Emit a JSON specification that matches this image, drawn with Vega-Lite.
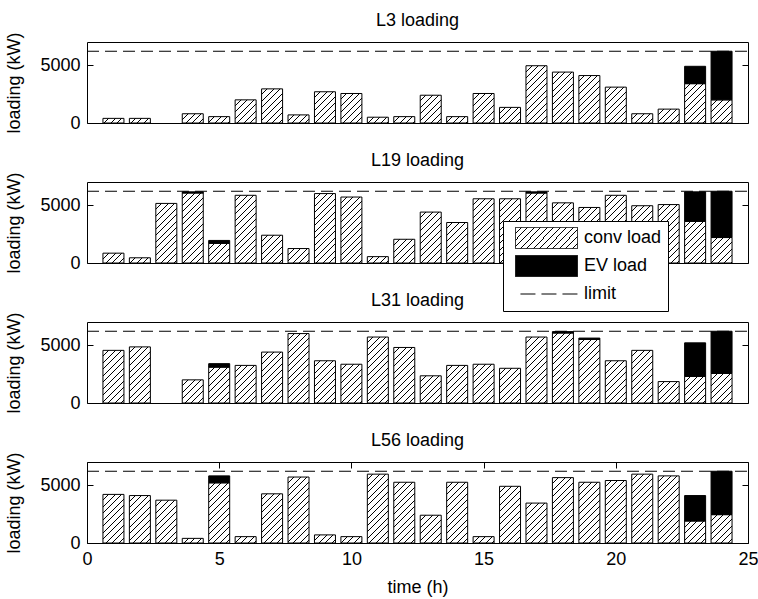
{
  "$schema": "https://vega.github.io/schema/vega-lite/v6.json",
  "background": "white",
  "padding": {"left": 5, "top": 11, "right": -1, "bottom": 0},
  "params": [
    {"name": "hatchStops", "value": [
      {"offset": 0, "color": "white"}, {"offset": 0.056411, "color": "white"}, {"offset": 0.056411, "color": "black"}, {"offset": 0.066667, "color": "black"},
      {"offset": 0.066667, "color": "white"}, {"offset": 0.123077, "color": "white"}, {"offset": 0.123077, "color": "black"}, {"offset": 0.133333, "color": "black"},
      {"offset": 0.133333, "color": "white"}, {"offset": 0.189744, "color": "white"}, {"offset": 0.189744, "color": "black"}, {"offset": 0.2, "color": "black"},
      {"offset": 0.2, "color": "white"}, {"offset": 0.256411, "color": "white"}, {"offset": 0.256411, "color": "black"}, {"offset": 0.266667, "color": "black"},
      {"offset": 0.266667, "color": "white"}, {"offset": 0.323077, "color": "white"}, {"offset": 0.323077, "color": "black"}, {"offset": 0.333333, "color": "black"},
      {"offset": 0.333333, "color": "white"}, {"offset": 0.389744, "color": "white"}, {"offset": 0.389744, "color": "black"}, {"offset": 0.4, "color": "black"},
      {"offset": 0.4, "color": "white"}, {"offset": 0.456411, "color": "white"}, {"offset": 0.456411, "color": "black"}, {"offset": 0.466667, "color": "black"},
      {"offset": 0.466667, "color": "white"}, {"offset": 0.523077, "color": "white"}, {"offset": 0.523077, "color": "black"}, {"offset": 0.533333, "color": "black"},
      {"offset": 0.533333, "color": "white"}, {"offset": 0.589744, "color": "white"}, {"offset": 0.589744, "color": "black"}, {"offset": 0.6, "color": "black"},
      {"offset": 0.6, "color": "white"}, {"offset": 0.656411, "color": "white"}, {"offset": 0.656411, "color": "black"}, {"offset": 0.666667, "color": "black"},
      {"offset": 0.666667, "color": "white"}, {"offset": 0.723077, "color": "white"}, {"offset": 0.723077, "color": "black"}, {"offset": 0.733333, "color": "black"},
      {"offset": 0.733333, "color": "white"}, {"offset": 0.789744, "color": "white"}, {"offset": 0.789744, "color": "black"}, {"offset": 0.8, "color": "black"},
      {"offset": 0.8, "color": "white"}, {"offset": 0.856411, "color": "white"}, {"offset": 0.856411, "color": "black"}, {"offset": 0.866667, "color": "black"},
      {"offset": 0.866667, "color": "white"}, {"offset": 0.923077, "color": "white"}, {"offset": 0.923077, "color": "black"}, {"offset": 0.933333, "color": "black"},
      {"offset": 0.933333, "color": "white"}, {"offset": 0.989744, "color": "white"}, {"offset": 0.989744, "color": "black"}, {"offset": 1, "color": "black"},
      {"offset": 1, "color": "white"}
    ]}
  ],
  "datasets": {
    "loads": [
      {"line":"L3","time":1,"type":"conv load","value":400},{"line":"L3","time":2,"type":"conv load","value":400},{"line":"L3","time":4,"type":"conv load","value":800},{"line":"L3","time":5,"type":"conv load","value":550},{"line":"L3","time":6,"type":"conv load","value":2000},{"line":"L3","time":7,"type":"conv load","value":2950},{"line":"L3","time":8,"type":"conv load","value":700},{"line":"L3","time":9,"type":"conv load","value":2700},{"line":"L3","time":10,"type":"conv load","value":2550},{"line":"L3","time":11,"type":"conv load","value":500},{"line":"L3","time":12,"type":"conv load","value":550},{"line":"L3","time":13,"type":"conv load","value":2400},{"line":"L3","time":14,"type":"conv load","value":550},{"line":"L3","time":15,"type":"conv load","value":2550},{"line":"L3","time":16,"type":"conv load","value":1350},{"line":"L3","time":17,"type":"conv load","value":4950},{"line":"L3","time":18,"type":"conv load","value":4400},{"line":"L3","time":19,"type":"conv load","value":4100},{"line":"L3","time":20,"type":"conv load","value":3100},{"line":"L3","time":21,"type":"conv load","value":800},{"line":"L3","time":22,"type":"conv load","value":1200},{"line":"L3","time":23,"type":"conv load","value":3400},{"line":"L3","time":24,"type":"conv load","value":2000},
      {"line":"L3","time":23,"type":"EV load","value":1500},{"line":"L3","time":24,"type":"EV load","value":4200},
      {"line":"L19","time":1,"type":"conv load","value":850},{"line":"L19","time":2,"type":"conv load","value":450},{"line":"L19","time":3,"type":"conv load","value":5150},{"line":"L19","time":4,"type":"conv load","value":6050},{"line":"L19","time":5,"type":"conv load","value":1700},{"line":"L19","time":6,"type":"conv load","value":5850},{"line":"L19","time":7,"type":"conv load","value":2400},{"line":"L19","time":8,"type":"conv load","value":1250},{"line":"L19","time":9,"type":"conv load","value":6000},{"line":"L19","time":10,"type":"conv load","value":5700},{"line":"L19","time":11,"type":"conv load","value":550},{"line":"L19","time":12,"type":"conv load","value":2050},{"line":"L19","time":13,"type":"conv load","value":4400},{"line":"L19","time":14,"type":"conv load","value":3500},{"line":"L19","time":15,"type":"conv load","value":5550},{"line":"L19","time":16,"type":"conv load","value":5550},{"line":"L19","time":17,"type":"conv load","value":6050},{"line":"L19","time":18,"type":"conv load","value":5200},{"line":"L19","time":19,"type":"conv load","value":4800},{"line":"L19","time":20,"type":"conv load","value":5850},{"line":"L19","time":21,"type":"conv load","value":4950},{"line":"L19","time":22,"type":"conv load","value":5050},{"line":"L19","time":23,"type":"conv load","value":3600},{"line":"L19","time":24,"type":"conv load","value":2200},
      {"line":"L19","time":4,"type":"EV load","value":100},{"line":"L19","time":5,"type":"EV load","value":250},{"line":"L19","time":17,"type":"EV load","value":100},{"line":"L19","time":23,"type":"EV load","value":2550},{"line":"L19","time":24,"type":"EV load","value":4000},
      {"line":"L31","time":1,"type":"conv load","value":4550},{"line":"L31","time":2,"type":"conv load","value":4850},{"line":"L31","time":4,"type":"conv load","value":2000},{"line":"L31","time":5,"type":"conv load","value":3100},{"line":"L31","time":6,"type":"conv load","value":3250},{"line":"L31","time":7,"type":"conv load","value":4400},{"line":"L31","time":8,"type":"conv load","value":6000},{"line":"L31","time":9,"type":"conv load","value":3650},{"line":"L31","time":10,"type":"conv load","value":3350},{"line":"L31","time":11,"type":"conv load","value":5700},{"line":"L31","time":12,"type":"conv load","value":4800},{"line":"L31","time":13,"type":"conv load","value":2350},{"line":"L31","time":14,"type":"conv load","value":3250},{"line":"L31","time":15,"type":"conv load","value":3350},{"line":"L31","time":16,"type":"conv load","value":3000},{"line":"L31","time":17,"type":"conv load","value":5700},{"line":"L31","time":18,"type":"conv load","value":6050},{"line":"L31","time":19,"type":"conv load","value":5500},{"line":"L31","time":20,"type":"conv load","value":3650},{"line":"L31","time":21,"type":"conv load","value":4550},{"line":"L31","time":22,"type":"conv load","value":1850},{"line":"L31","time":23,"type":"conv load","value":2300},{"line":"L31","time":24,"type":"conv load","value":2550},
      {"line":"L31","time":5,"type":"EV load","value":300},{"line":"L31","time":18,"type":"EV load","value":120},{"line":"L31","time":19,"type":"EV load","value":110},{"line":"L31","time":23,"type":"EV load","value":2900},{"line":"L31","time":24,"type":"EV load","value":3650},
      {"line":"L56","time":1,"type":"conv load","value":4200},{"line":"L56","time":2,"type":"conv load","value":4100},{"line":"L56","time":3,"type":"conv load","value":3700},{"line":"L56","time":4,"type":"conv load","value":400},{"line":"L56","time":5,"type":"conv load","value":5200},{"line":"L56","time":6,"type":"conv load","value":550},{"line":"L56","time":7,"type":"conv load","value":4250},{"line":"L56","time":8,"type":"conv load","value":5700},{"line":"L56","time":9,"type":"conv load","value":700},{"line":"L56","time":10,"type":"conv load","value":550},{"line":"L56","time":11,"type":"conv load","value":5950},{"line":"L56","time":12,"type":"conv load","value":5250},{"line":"L56","time":13,"type":"conv load","value":2400},{"line":"L56","time":14,"type":"conv load","value":5250},{"line":"L56","time":15,"type":"conv load","value":550},{"line":"L56","time":16,"type":"conv load","value":4900},{"line":"L56","time":17,"type":"conv load","value":3450},{"line":"L56","time":18,"type":"conv load","value":5650},{"line":"L56","time":19,"type":"conv load","value":5250},{"line":"L56","time":20,"type":"conv load","value":5400},{"line":"L56","time":21,"type":"conv load","value":5950},{"line":"L56","time":22,"type":"conv load","value":5800},{"line":"L56","time":23,"type":"conv load","value":1900},{"line":"L56","time":24,"type":"conv load","value":2450},
      {"line":"L56","time":5,"type":"EV load","value":600},{"line":"L56","time":23,"type":"EV load","value":2200},{"line":"L56","time":24,"type":"EV load","value":3750}
    ],
    "limits": [
      {"line":"L3","limit":6200,"start":0,"end":25},
      {"line":"L19","limit":6200,"start":0,"end":25},
      {"line":"L31","limit":6200,"start":0,"end":25},
      {"line":"L56","limit":6200,"start":0,"end":25}
    ]
  },
  "vconcat": [
    {
      "title": "L3 loading", "width": 661, "height": 81,
      "resolve": {"axis": {"x": "independent", "y": "independent"}},
      "layer": [
        {
          "data": {"name": "loads"}, "transform": [{"filter": "datum.line === 'L3'"}],
          "mark": {"type": "bar", "size": 21, "stroke": "black", "strokeWidth": 1, "fill": {"expr": "datum.type === 'EV load' ? 'black' : {gradient: 'linear', id: 'hatch_' + datum.line + '_' + datum.time, x1: 0, y1: 0, x2: 97.5*21/(441 + pow(datum.value*81/7000, 2)), y2: 97.5*(datum.value*81/7000)/(441 + pow(datum.value*81/7000, 2)), stops: hatchStops}"}},
          "encoding": {
            "x": {"field": "time", "type": "quantitative", "scale": {"domain": [0, 25], "nice": false, "zero": false, "padding": 0}, "axis": null},
            "y": {"field": "value", "type": "quantitative", "stack": "zero", "scale": {"domain": [0, 7000], "nice": false}, "axis": {"orient": "left", "values": [0, 5000], "format": "d", "tickSize": -6, "labelPadding": 13, "title": "loading (kW)", "titlePadding": 16}},
            "detail": {"field": "type"},
            "order": {"field": "type", "sort": "descending"},
            "opacity": {"field": "type", "type": "nominal", "scale": {"domain": ["conv load", "EV load", "limit"], "range": [1, 1]}, "legend": {"title": null, "orient": "none", "legendX": 416, "legendY": 179,
              "encoding": {"symbols": {
                "fill": {"value": {"expr": "datum.value === 'conv load' ? {gradient: 'linear', id: 'hatch_legend', x1: 0, y1: 0, x2: 1.4107, y2: 0.4778, stops: hatchStops} : (datum.value === 'EV load' ? 'black' : 'transparent')"}},
                "shape": {"value": {"expr": "datum.value === 'limit' ? 'M-0.84,0H1' : 'M-1,-0.34H1V0.34H-1Z'"}},
                "strokeDash": {"value": {"expr": "datum.value === 'limit' ? [15, 6] : [1, 0]"}},
                "stroke": {"value": "black"},
                "strokeWidth": {"value": 1}
              }}}}
          }
        },
        {
          "data": {"name": "limits"}, "transform": [{"filter": "datum.line === 'L3'"}],
          "mark": {"type": "rule", "color": "black", "strokeWidth": 1, "strokeDash": [12, 6]},
          "encoding": {
            "x": {"field": "start", "type": "quantitative", "scale": {"domain": [0, 25], "nice": false, "zero": false, "padding": 0}, "axis": null},
            "x2": {"field": "end"},
            "y": {"field": "limit", "type": "quantitative", "axis": {"orient": "right", "values": [0, 5000], "tickSize": -6, "labels": false, "title": null}}
          }
        }
      ]
    },
    {
      "title": "L19 loading", "width": 661, "height": 81,
      "resolve": {"axis": {"x": "independent", "y": "independent"}},
      "layer": [
        {
          "data": {"name": "loads"}, "transform": [{"filter": "datum.line === 'L19'"}],
          "mark": {"type": "bar", "size": 21, "stroke": "black", "strokeWidth": 1, "fill": {"expr": "datum.type === 'EV load' ? 'black' : {gradient: 'linear', id: 'hatch_' + datum.line + '_' + datum.time, x1: 0, y1: 0, x2: 97.5*21/(441 + pow(datum.value*81/7000, 2)), y2: 97.5*(datum.value*81/7000)/(441 + pow(datum.value*81/7000, 2)), stops: hatchStops}"}},
          "encoding": {
            "x": {"field": "time", "type": "quantitative", "scale": {"domain": [0, 25], "nice": false, "zero": false, "padding": 0}, "axis": null},
            "y": {"field": "value", "type": "quantitative", "stack": "zero", "scale": {"domain": [0, 7000], "nice": false}, "axis": {"orient": "left", "values": [0, 5000], "format": "d", "tickSize": -6, "labelPadding": 13, "title": "loading (kW)", "titlePadding": 16}},
            "detail": {"field": "type"},
            "order": {"field": "type", "sort": "descending"},
            "opacity": {"field": "type", "type": "nominal", "scale": {"domain": ["conv load", "EV load", "limit"], "range": [1, 1]}, "legend": {"title": null, "orient": "none", "legendX": 416, "legendY": 179,
              "encoding": {"symbols": {
                "fill": {"value": {"expr": "datum.value === 'conv load' ? {gradient: 'linear', id: 'hatch_legend', x1: 0, y1: 0, x2: 1.4107, y2: 0.4778, stops: hatchStops} : (datum.value === 'EV load' ? 'black' : 'transparent')"}},
                "shape": {"value": {"expr": "datum.value === 'limit' ? 'M-0.84,0H1' : 'M-1,-0.34H1V0.34H-1Z'"}},
                "strokeDash": {"value": {"expr": "datum.value === 'limit' ? [15, 6] : [1, 0]"}},
                "stroke": {"value": "black"},
                "strokeWidth": {"value": 1}
              }}}}
          }
        },
        {
          "data": {"name": "limits"}, "transform": [{"filter": "datum.line === 'L19'"}],
          "mark": {"type": "rule", "color": "black", "strokeWidth": 1, "strokeDash": [12, 6]},
          "encoding": {
            "x": {"field": "start", "type": "quantitative", "scale": {"domain": [0, 25], "nice": false, "zero": false, "padding": 0}, "axis": null},
            "x2": {"field": "end"},
            "y": {"field": "limit", "type": "quantitative", "axis": {"orient": "right", "values": [0, 5000], "tickSize": -6, "labels": false, "title": null}}
          }
        }
      ]
    },
    {
      "title": "L31 loading", "width": 661, "height": 81,
      "resolve": {"axis": {"x": "independent", "y": "independent"}},
      "layer": [
        {
          "data": {"name": "loads"}, "transform": [{"filter": "datum.line === 'L31'"}],
          "mark": {"type": "bar", "size": 21, "stroke": "black", "strokeWidth": 1, "fill": {"expr": "datum.type === 'EV load' ? 'black' : {gradient: 'linear', id: 'hatch_' + datum.line + '_' + datum.time, x1: 0, y1: 0, x2: 97.5*21/(441 + pow(datum.value*81/7000, 2)), y2: 97.5*(datum.value*81/7000)/(441 + pow(datum.value*81/7000, 2)), stops: hatchStops}"}},
          "encoding": {
            "x": {"field": "time", "type": "quantitative", "scale": {"domain": [0, 25], "nice": false, "zero": false, "padding": 0}, "axis": null},
            "y": {"field": "value", "type": "quantitative", "stack": "zero", "scale": {"domain": [0, 7000], "nice": false}, "axis": {"orient": "left", "values": [0, 5000], "format": "d", "tickSize": -6, "labelPadding": 13, "title": "loading (kW)", "titlePadding": 16}},
            "detail": {"field": "type"},
            "order": {"field": "type", "sort": "descending"},
            "opacity": {"field": "type", "type": "nominal", "scale": {"domain": ["conv load", "EV load", "limit"], "range": [1, 1]}, "legend": {"title": null, "orient": "none", "legendX": 416, "legendY": 179,
              "encoding": {"symbols": {
                "fill": {"value": {"expr": "datum.value === 'conv load' ? {gradient: 'linear', id: 'hatch_legend', x1: 0, y1: 0, x2: 1.4107, y2: 0.4778, stops: hatchStops} : (datum.value === 'EV load' ? 'black' : 'transparent')"}},
                "shape": {"value": {"expr": "datum.value === 'limit' ? 'M-0.84,0H1' : 'M-1,-0.34H1V0.34H-1Z'"}},
                "strokeDash": {"value": {"expr": "datum.value === 'limit' ? [15, 6] : [1, 0]"}},
                "stroke": {"value": "black"},
                "strokeWidth": {"value": 1}
              }}}}
          }
        },
        {
          "data": {"name": "limits"}, "transform": [{"filter": "datum.line === 'L31'"}],
          "mark": {"type": "rule", "color": "black", "strokeWidth": 1, "strokeDash": [12, 6]},
          "encoding": {
            "x": {"field": "start", "type": "quantitative", "scale": {"domain": [0, 25], "nice": false, "zero": false, "padding": 0}, "axis": null},
            "x2": {"field": "end"},
            "y": {"field": "limit", "type": "quantitative", "axis": {"orient": "right", "values": [0, 5000], "tickSize": -6, "labels": false, "title": null}}
          }
        }
      ]
    },
    {
      "title": "L56 loading", "width": 661, "height": 81,
      "resolve": {"axis": {"x": "independent", "y": "independent"}},
      "layer": [
        {
          "data": {"name": "loads"}, "transform": [{"filter": "datum.line === 'L56'"}],
          "mark": {"type": "bar", "size": 21, "stroke": "black", "strokeWidth": 1, "fill": {"expr": "datum.type === 'EV load' ? 'black' : {gradient: 'linear', id: 'hatch_' + datum.line + '_' + datum.time, x1: 0, y1: 0, x2: 97.5*21/(441 + pow(datum.value*81/7000, 2)), y2: 97.5*(datum.value*81/7000)/(441 + pow(datum.value*81/7000, 2)), stops: hatchStops}"}},
          "encoding": {
            "x": {"field": "time", "type": "quantitative", "scale": {"domain": [0, 25], "nice": false, "zero": false, "padding": 0}, "axis": {"orient": "bottom", "values": [0, 5, 10, 15, 20, 25], "tickSize": -6, "labelPadding": 13, "labelFlush": false, "title": "time (h)", "titlePadding": 10}},
            "y": {"field": "value", "type": "quantitative", "stack": "zero", "scale": {"domain": [0, 7000], "nice": false}, "axis": {"orient": "left", "values": [0, 5000], "format": "d", "tickSize": -6, "labelPadding": 13, "title": "loading (kW)", "titlePadding": 16}},
            "detail": {"field": "type"},
            "order": {"field": "type", "sort": "descending"},
            "opacity": {"field": "type", "type": "nominal", "scale": {"domain": ["conv load", "EV load", "limit"], "range": [1, 1]}, "legend": {"title": null, "orient": "none", "legendX": 416, "legendY": 179,
              "encoding": {"symbols": {
                "fill": {"value": {"expr": "datum.value === 'conv load' ? {gradient: 'linear', id: 'hatch_legend', x1: 0, y1: 0, x2: 1.4107, y2: 0.4778, stops: hatchStops} : (datum.value === 'EV load' ? 'black' : 'transparent')"}},
                "shape": {"value": {"expr": "datum.value === 'limit' ? 'M-0.84,0H1' : 'M-1,-0.34H1V0.34H-1Z'"}},
                "strokeDash": {"value": {"expr": "datum.value === 'limit' ? [15, 6] : [1, 0]"}},
                "stroke": {"value": "black"},
                "strokeWidth": {"value": 1}
              }}}}
          }
        },
        {
          "data": {"name": "limits"}, "transform": [{"filter": "datum.line === 'L56'"}],
          "mark": {"type": "rule", "color": "black", "strokeWidth": 1, "strokeDash": [12, 6]},
          "encoding": {
            "x": {"field": "start", "type": "quantitative", "scale": {"domain": [0, 25], "nice": false, "zero": false, "padding": 0}, "axis": {"orient": "top", "values": [0, 5, 10, 15, 20, 25], "tickSize": -6, "labels": false, "title": null}},
            "x2": {"field": "end"},
            "y": {"field": "limit", "type": "quantitative", "axis": {"orient": "right", "values": [0, 5000], "tickSize": -6, "labels": false, "title": null}}
          }
        }
      ]
    }
  ],
  "spacing": 59,
  "bounds": "flush",
  "config": {
    "font": "Liberation Sans",
    "view": {"stroke": "black", "strokeWidth": 1},
    "axis": {"labelFontSize": 18, "titleFontSize": 18, "titleFontWeight": "normal", "labelColor": "black", "titleColor": "black", "tickColor": "black", "grid": false, "domain": false},
    "title": {"fontSize": 18, "fontWeight": "normal", "color": "black", "offset": 2, "baseline": "alphabetic"},
    "legend": {
      "padding": 6, "strokeColor": "black", "fillColor": "white", "symbolSize": 3844, "clipHeight": 22, "rowPadding": 6,
      "labelFontSize": 18, "labelColor": "black", "labelOffset": 6, "symbolOffset": 6, "zindex": 1, "cornerRadius": 0,
      "labelExpr": "datum.label + '\u00a0'"
    }
  },
  "resolve": {"legend": {"opacity": "shared"}}
}
